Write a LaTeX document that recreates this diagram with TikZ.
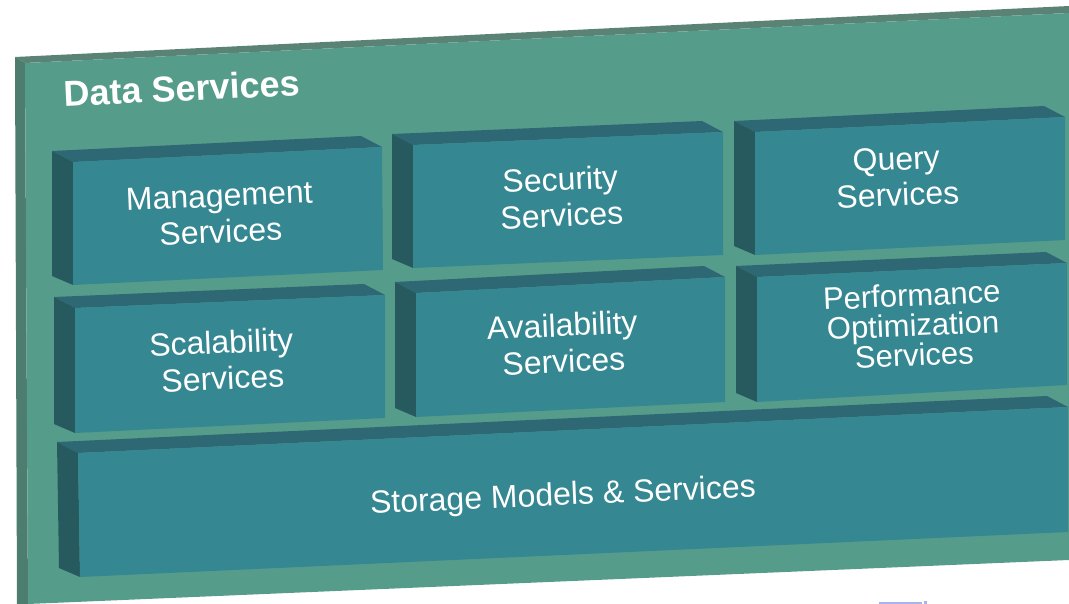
\documentclass[tikz,border=0pt]{standalone}
\usepackage{fontspec}
\setmainfont{Liberation Sans}
\definecolor{panelface}{HTML}{569C8A}
\definecolor{panelside}{HTML}{4C7D6E}
\definecolor{paneltop}{HTML}{5A8375}
\definecolor{boxface}{HTML}{358791}
\definecolor{boxtop}{HTML}{2E6874}
\definecolor{boxside}{HTML}{275A5E}
\definecolor{artifact}{HTML}{A8B4E8}
\tikzset{
  lbl/.style={text=white, align=center, font=\fontsize{32}{36}\selectfont, rotate=2.5, inner sep=0pt},
  title/.style={text=white, font=\bfseries\fontsize{36}{40}\selectfont, rotate=2.7, inner sep=0pt},
}
\newcommand\slab[5]{%
  \coordinate (#1tl) at (#2); \coordinate (#1tr) at (#3);
  \coordinate (#1br) at (#4); \coordinate (#1bl) at (#5);
  \fill[boxtop] (#1tl) -- (#1tr) -- ([shift={(-21,-11)}]#1tr) -- ([shift={(-21,-11)}]#1tl) -- cycle;
  \fill[boxside] (#1tl) -- (#1bl) -- ([shift={(-21,-9)}]#1bl) -- ([shift={(-21,-11)}]#1tl) -- cycle;
  \fill[boxface] (#1tl) -- (#1tr) -- (#1br) -- (#1bl) -- cycle;
}
\begin{document}
\begin{tikzpicture}[x=1pt,y=-1pt]
\useasboundingbox (0,0) rectangle (1069,604);
% panel
\coordinate (ptl) at (25,63);
\coordinate (ptr) at (1069,13);
\coordinate (pbr) at (1069,560);
\coordinate (pbl) at (28,604);
\fill[paneltop] (15,57) -- (1069,6) -- (ptr) -- (ptl) -- cycle;
\fill[panelside] (15,57) -- (ptl) -- (pbl) -- (17,604) -- cycle;
\fill[panelface] (ptl) -- (ptr) -- (pbr) -- (pbl) -- cycle;
\node[title] (ds) at (182,88) {Data Services};
% boxes
\slab{m}{73,162}{382,147}{383,270}{73,285}
\slab{se}{413,145}{723,132}{723,255}{413,268}
\slab{q}{755,132}{1065,117}{1065,240}{755,255}
\slab{sc}{75,308}{385,295}{385,418}{75,433}
\slab{av}{416,293}{725,277}{725,402}{416,417}
\slab{pf}{757,277}{1067,263}{1067,385}{757,402}
\slab{st}{78,453}{1068,407}{1068,532}{80,577}
\node[lbl] (mgmt) at (220,214) {Management\\Services};
\node[lbl] (sec) at (561,197) {Security\\Services};
\node[lbl] (qry) at (897,177) {Query\\Services};
\node[lbl] (scal) at (222,360) {Scalability\\Services};
\node[lbl] (avail) at (563,343) {Availability\\Services};
\node[lbl, font=\fontsize{31}{30}\selectfont] (perf) at (913,325) {Performance\\Optimization\\Services};
\node[lbl] (stor) at (563,497) {Storage Models \& Services};
% small artifact below panel
\fill[artifact] (879,602) rectangle (922,604);
\fill[artifact] (924,601) rectangle (927,604);
\end{tikzpicture}
\end{document}
